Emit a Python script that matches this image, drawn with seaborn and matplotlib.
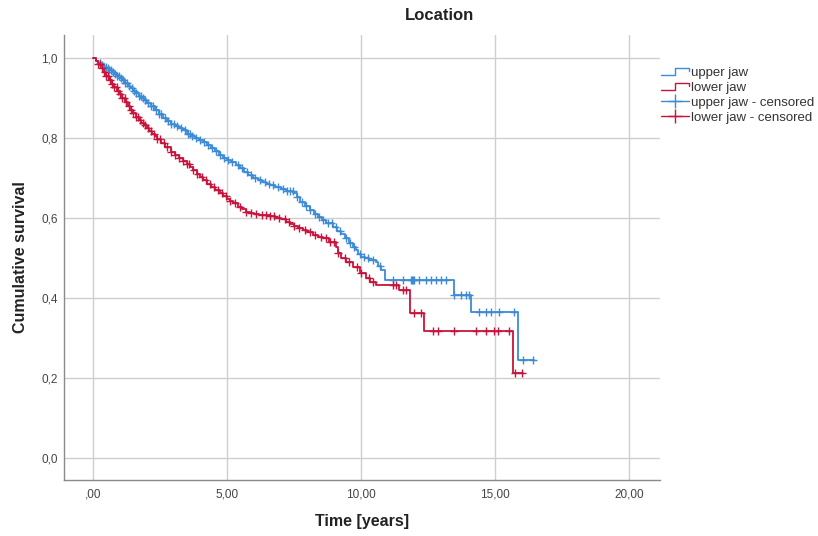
import numpy as np
import pandas as pd
import seaborn as sns
import matplotlib.pyplot as plt
import matplotlib.ticker as ticker
from matplotlib.lines import Line2D
from matplotlib.legend_handler import HandlerBase

# Kaplan-Meier estimates (time in years, cumulative survival)
upper_time = [0.0, 0.1, 0.2, 0.3, 0.4, 0.5, 0.6, 0.7, 0.8, 0.9, 1.0, 1.1, 1.2, 1.3, 1.4, 1.5, 1.6,
              1.7, 1.8, 1.9, 2.0, 2.15, 2.3, 2.45, 2.6, 2.75, 2.9, 3.05, 3.2, 3.35, 3.5, 3.65, 3.8,
              3.95, 4.1, 4.25, 4.4, 4.55, 4.7, 4.85, 5.0, 5.15, 5.35, 5.5, 5.65, 5.8, 5.97, 6.15,
              6.3, 6.45, 6.6, 6.8, 7.0, 7.2, 7.46, 7.6, 7.71, 7.9, 8.08, 8.25, 8.4, 8.55, 8.7,
              8.94, 9.1, 9.25, 9.4, 9.57, 9.7, 9.8, 9.9, 10.0, 10.15, 10.3, 10.57, 10.65, 10.75,
              10.88, 13.48, 14.1, 15.84]
upper_surv = [1.0, 0.993, 0.987, 0.982, 0.978, 0.975, 0.971, 0.966, 0.96, 0.955, 0.95, 0.944, 0.937,
              0.931, 0.925, 0.918, 0.912, 0.906, 0.9, 0.894, 0.888, 0.879, 0.869, 0.86, 0.851, 0.842,
              0.834, 0.829, 0.825, 0.819, 0.811, 0.806, 0.8, 0.794, 0.789, 0.783, 0.776, 0.768, 0.757,
              0.749, 0.745, 0.74, 0.733, 0.724, 0.715, 0.707, 0.699, 0.694, 0.69, 0.686, 0.683, 0.678,
              0.673, 0.668, 0.662, 0.652, 0.641, 0.631, 0.62, 0.611, 0.603, 0.595, 0.587, 0.577, 0.568,
              0.56, 0.549, 0.537, 0.527, 0.52, 0.511, 0.503, 0.499, 0.495, 0.491, 0.48, 0.47, 0.445,
              0.4075, 0.366, 0.245]
upper_end = 16.45

lower_time = [0.0, 0.1, 0.2, 0.3, 0.4, 0.5, 0.6, 0.7, 0.8, 0.9, 1.0, 1.1, 1.2, 1.3, 1.4, 1.5, 1.6,
              1.7, 1.8, 1.9, 2.0, 2.1, 2.2, 2.3, 2.4, 2.55, 2.7, 2.9, 3.05, 3.2, 3.35, 3.5, 3.61,
              3.75, 3.9, 4.0, 4.1, 4.25, 4.4, 4.55, 4.73, 4.85, 5.0, 5.1, 5.23, 5.4, 5.55, 5.7,
              5.85, 6.0, 6.2, 6.4, 6.6, 6.8, 7.0, 7.21, 7.35, 7.5, 7.65, 7.83, 8.0, 8.2, 8.4, 8.58,
              8.8, 9.07, 9.15, 9.26, 9.45, 9.7, 9.95, 10.19, 10.35, 10.57, 11.43, 11.82, 12.36, 15.65]
lower_surv = [1.0, 0.992, 0.984, 0.975, 0.965, 0.955, 0.945, 0.935, 0.927, 0.918, 0.91, 0.9, 0.89,
              0.88, 0.87, 0.862, 0.853, 0.845, 0.838, 0.832, 0.826, 0.818, 0.811, 0.804, 0.797, 0.787,
              0.778, 0.766, 0.758, 0.75, 0.743, 0.734, 0.728, 0.719, 0.709, 0.702, 0.695, 0.686, 0.678,
              0.67, 0.662, 0.655, 0.648, 0.643, 0.637, 0.628, 0.622, 0.616, 0.612, 0.61, 0.608, 0.607,
              0.605, 0.601, 0.597, 0.591, 0.585, 0.58, 0.575, 0.57, 0.564, 0.558, 0.553, 0.549, 0.54,
              0.528, 0.513, 0.499, 0.49, 0.478, 0.462, 0.449, 0.44, 0.433, 0.42, 0.362, 0.318, 0.213]
lower_end = 16.05

# censored observations (years)
upper_censored = [0.25, 0.32, 0.4, 0.48, 0.55, 0.6, 0.68, 0.75, 0.82, 0.9, 0.97, 1.05, 1.12, 1.2, 1.28,
                  1.35, 1.45, 1.52, 1.6, 1.7, 1.78, 1.85, 1.95, 2.05, 2.15, 2.25, 2.35, 2.45, 2.55, 2.68,
                  2.8, 2.9, 3.02, 3.15, 3.3, 3.42, 3.55, 3.62, 3.7, 3.85, 4.0, 4.15, 4.3, 4.45, 4.6, 4.75,
                  4.9, 5.05, 5.2, 5.4, 5.55, 5.75, 5.9, 6.05, 6.25, 6.4, 6.55, 6.7, 6.9, 7.1, 7.25, 7.35,
                  7.45, 7.6, 7.8, 7.95, 8.1, 8.3, 8.45, 8.6, 8.75, 8.9, 9.05, 9.2, 9.45, 9.6, 9.75, 9.95,
                  10.1, 10.25, 10.45, 10.7, 11.18, 11.56, 11.87, 11.91, 11.95, 11.99, 12.18, 12.43, 12.61,
                  12.8, 12.99, 13.17, 13.48, 13.73, 13.92, 14.04, 14.41, 14.66, 14.85, 15.16, 15.72,
                  16.03, 16.4]
lower_censored = [0.2, 0.28, 0.35, 0.43, 0.5, 0.58, 0.65, 0.72, 0.8, 0.88, 0.95, 1.02, 1.1, 1.18, 1.25,
                  1.33, 1.42, 1.5, 1.6, 1.68, 1.76, 1.85, 1.95, 2.05, 2.15, 2.28, 2.4, 2.52, 2.65, 2.78,
                  2.9, 3.05, 3.2, 3.35, 3.5, 3.6, 3.75, 3.9, 4.05, 4.2, 4.35, 4.5, 4.65, 4.8, 4.95, 5.1,
                  5.3, 5.5, 5.7, 5.9, 6.1, 6.3, 6.45, 6.6, 6.75, 6.95, 7.15, 7.3, 7.5, 7.7, 7.9, 8.1, 8.3,
                  8.5, 8.7, 8.85, 9.0, 9.15, 9.4, 9.55, 9.85, 10.0, 10.3, 10.45, 11.18, 11.31, 11.55,
                  11.68, 11.99, 12.24, 12.67, 12.86, 13.48, 14.29, 14.66, 14.97, 15.1, 15.53, 15.75, 16.0]

groups = ['upper jaw', 'lower jaw']
colors = {'upper jaw': '#3d8bd6', 'lower jaw': '#c8143c'}


def surv_at(times, survs, t):
    idx = np.searchsorted(times, t, side='right') - 1
    return np.array(survs)[idx]


curve_rows = []
cens_rows = []
for g, t, s, end, c in [('upper jaw', upper_time, upper_surv, upper_end, upper_censored),
                        ('lower jaw', lower_time, lower_surv, lower_end, lower_censored)]:
    for ti, si in zip(t + [end], s + [s[-1]]):
        curve_rows.append({'group': g, 'time': ti, 'surv': si})
    for ci, si in zip(c, surv_at(t, s, c)):
        cens_rows.append({'group': g, 'time': ci, 'surv': si})
curves = pd.DataFrame(curve_rows)
censored = pd.DataFrame(cens_rows)

sns.set_style('white')
plt.rcParams['font.family'] = ['Liberation Sans', 'DejaVu Sans']

fig = plt.figure(figsize=(8.18, 5.36), dpi=100)
ax = fig.add_axes([0.0782, 0.1045, 0.7286, 0.8302])

sns.lineplot(data=curves, x='time', y='surv', hue='group', hue_order=groups, palette=colors,
             estimator=None, sort=False, drawstyle='steps-post', linewidth=1.3, legend=False, ax=ax)
sns.scatterplot(data=censored, x='time', y='surv', hue='group', hue_order=groups, palette=colors,
                marker='+', s=32, linewidth=1.0, legend=False, ax=ax, zorder=3)

ax.set_xlim(-1.08, 21.15)
ax.set_ylim(-0.055, 1.0575)
ax.xaxis.set_major_locator(ticker.MultipleLocator(5))
ax.yaxis.set_major_locator(ticker.MultipleLocator(0.2))


def fmt_x(v, pos):
    s = f'{v:.2f}'.replace('.', ',')
    return s[1:] if s.startswith('0,') else s


ax.xaxis.set_major_formatter(ticker.FuncFormatter(fmt_x))
ax.yaxis.set_major_formatter(ticker.FuncFormatter(lambda v, p: f'{v:.1f}'.replace('.', ',')))
ax.grid(True, color='#cfcfcf', linewidth=1.0)
ax.set_axisbelow(True)
for side in ['top', 'right']:
    ax.spines[side].set_visible(False)
for side in ['left', 'bottom']:
    ax.spines[side].set_color('#8a8a8a')
    ax.spines[side].set_linewidth(1.0)
ax.tick_params(axis='both', length=0, labelsize=8.5, labelcolor='#444444')
ax.tick_params(axis='x', pad=6)
ax.tick_params(axis='y', pad=4.5)

ax.set_xlabel('Time [years]', fontsize=11.5, fontweight='bold', color='#222222')
ax.set_ylabel('Cumulative survival', fontsize=11.5, fontweight='bold', color='#222222')
ax.xaxis.set_label_coords(0.5, -0.0764)
ax.yaxis.set_label_coords(-0.0604, 0.5)

fig.text(439 / 818, 1 - 16 / 536, 'Location', ha='center', va='center',
         fontsize=12, fontweight='bold', color='#222222')


class StepHandler(HandlerBase):
    def create_artists(self, legend, orig_handle, xdescent, ydescent, width, height, fontsize, trans):
        x0, y0 = -xdescent, -ydescent
        xs = [x0, x0 + 0.5 * width, x0 + 0.5 * width, x0 + width, x0 + width]
        ys = [y0 + 0.15 * height, y0 + 0.15 * height, y0 + 0.9 * height, y0 + 0.9 * height, y0 + 0.55 * height]
        return [Line2D(xs, ys, color=orig_handle.get_color(), lw=1.0, transform=trans)]


step_handles = [Line2D([], [], color=colors[g]) for g in groups]
cens_handles = [Line2D([], [], color=colors[g], marker='+', markersize=10, lw=1.0) for g in groups]
handles = step_handles + cens_handles
labels = ['upper jaw', 'lower jaw', 'upper jaw - censored', 'lower jaw - censored']
fig.legend(handles, labels, loc='upper left', bbox_to_anchor=(661 / 818, 1 - 67 / 536),
           frameon=False, fontsize=9.5, handlelength=2.1, handletextpad=0.15, labelspacing=0.2,
           borderpad=0, borderaxespad=0, labelcolor='#333333',
           handler_map={h: StepHandler() for h in step_handles})

fig.savefig('out.png', dpi=100)
